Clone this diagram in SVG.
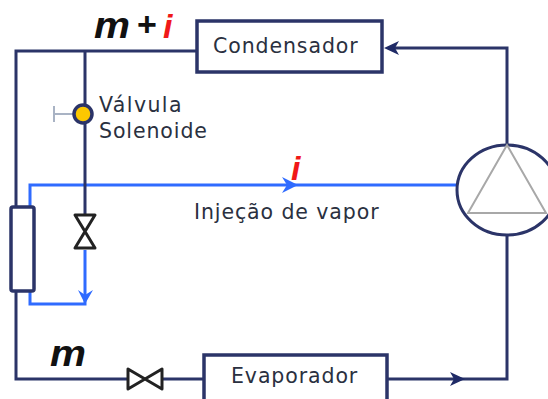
<svg xmlns="http://www.w3.org/2000/svg" width="548" height="399" viewBox="0 0 548 399">
<style>
.d{fill:none;stroke:#2b3468;stroke-width:3}
.b{fill:none;stroke:#2f6bff;stroke-width:3}
.box{fill:#fff;stroke:#2b3468;stroke-width:3.5}
.v{fill:#fff;stroke:#222;stroke-width:3;stroke-linejoin:round}
.t{font-family:"DejaVu Sans",sans-serif;font-size:20.5px;letter-spacing:.9px;fill:#2a3040}
.m{font-family:"Liberation Sans",sans-serif;font-size:36px;font-weight:bold;font-style:italic;fill:#111}
.i{font-family:"Liberation Sans",sans-serif;font-size:34px;font-weight:bold;font-style:italic;fill:#f01818}
</style>
<rect width="548" height="399" fill="#fff"/>
<g id="connectors">
<path class="b" d="M457 185H30V304H85V250"/>
<path class="d" d="M197 51H16V379H127M163 379H204M387 379H507V236M507 145V48H388M85 51V215"/>
<path d="M282 177L298 185L282 193L287 185Z" fill="#2f6bff"/>
<path d="M78 290L85 304L93 290L85 295Z" fill="#2f6bff"/>
<path d="M384 48L399 41L395 48L399 55Z" fill="#1f2a66"/>
<path d="M450 372L465 379L450 386L454 379Z" fill="#1f2a66"/>
</g>
<g id="condensador"><rect class="box" x="197" y="21" width="185" height="51"/><text class="t" x="213" y="53">Condensador</text></g>
<g id="evaporador"><rect class="box" x="204" y="355" width="183" height="50"/><text class="t" x="231" y="383">Evaporador</text></g>
<g id="recipiente"><rect class="box" x="11" y="207" width="23" height="84" rx="2" stroke-width="3"/></g>
<g id="compressor"><ellipse cx="507" cy="190" rx="50" ry="45" fill="#fff" stroke="#2b3468" stroke-width="3"/><path d="M507 145L468 213H546Z" fill="none" stroke="#a8a8a8" stroke-width="2"/></g>
<g id="valvula-solenoide"><path d="M54 106V122M54 114H74" fill="none" stroke="#a9b3c4" stroke-width="2"/><circle cx="83" cy="114" r="9" fill="#fcc800" stroke="#2b3468" stroke-width="3.5"/><text class="t" x="99" y="112" style="letter-spacing:1.4px">Válvula</text><text class="t" x="99" y="138">Solenoide</text></g>
<g id="valvula-injecao"><path class="v" d="M75 215H95L75 248H95Z"/></g>
<g id="valvula-expansao"><path class="v" d="M128 369V389L162 369V389Z"/></g>
<g id="labels"><text class="m" x="94" y="38" textLength="36" lengthAdjust="spacingAndGlyphs">m</text><text class="m" x="137" y="36" style="font-size:34px;font-style:normal">+</text><text class="i" x="163" y="38">i</text><text class="i" x="291" y="180">i</text><text class="t" x="194" y="219">Injeção de vapor</text><text class="m" x="50" y="366" textLength="36" lengthAdjust="spacingAndGlyphs">m</text></g>
</svg>
